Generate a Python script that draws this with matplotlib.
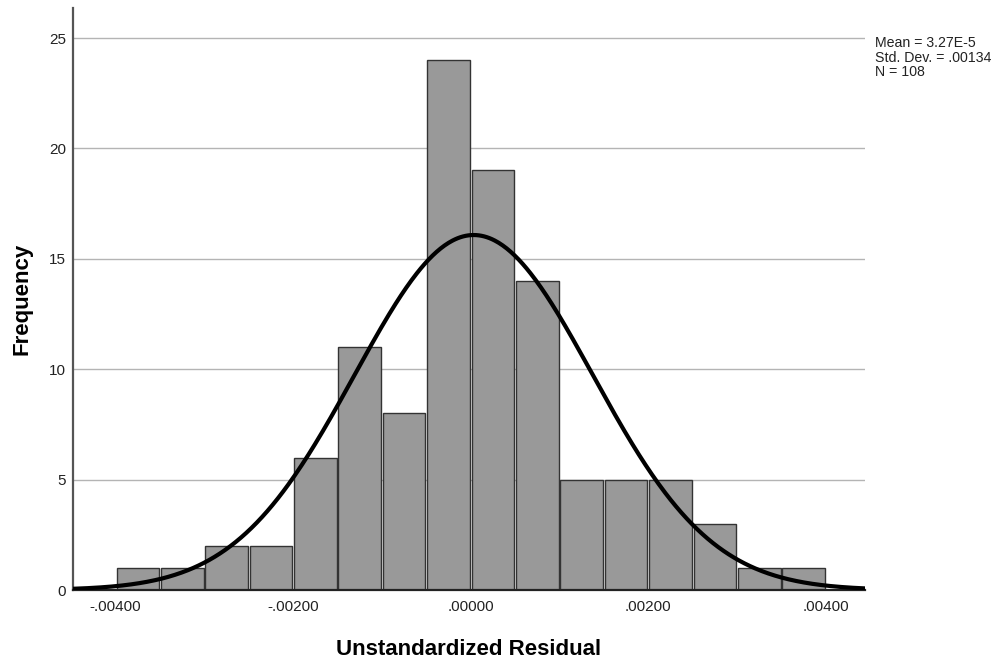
import numpy as np
import matplotlib
matplotlib.use("Agg")
import matplotlib.pyplot as plt

plt.rcParams['font.family'] = ['Liberation Sans', 'DejaVu Sans']

bin_edges = [-0.0040, -0.0035, -0.0030, -0.0025, -0.0020, -0.0015, -0.0010, -0.0005,
             0.0000, 0.0005, 0.0010, 0.0015, 0.0020, 0.0025, 0.0030, 0.0035, 0.0040]
counts = [1, 1, 2, 2, 6, 11, 8, 24, 19, 14, 5, 5, 5, 3, 1, 1]
mean = 3.27e-5
std = 0.00134
n = 108
xticks = [-0.004, -0.002, 0.0, 0.002, 0.004]
xticklabels = ['-.00400', '-.00200', '.00000', '.00200', '.00400']
yticks = [0, 5, 10, 15, 20, 25]

fig = plt.figure(figsize=(10.01, 6.59), dpi=100)
ax = fig.add_axes([73/1001, 1-590/659, (865-73)/1001, (590-8)/659])

lefts = np.array(bin_edges[:-1])
widths = np.diff(bin_edges)
gap = 0.00002
ax.bar(lefts + gap/2, counts, width=widths - gap, align='edge',
       color='#999999', edgecolor='#333333', linewidth=1.0, zorder=2)

xlim = (-0.00448, 0.00444)
xs = np.linspace(xlim[0], xlim[1], 600)
bw = 0.0005
pdf = n * bw / (std * np.sqrt(2*np.pi)) * np.exp(-0.5*((xs-mean)/std)**2)
ax.plot(xs, pdf, color='black', linewidth=3.0, zorder=3, solid_capstyle='butt')

ax.set_xlim(*xlim)
ax.set_ylim(0, (590-8)/22.08)
ax.set_yticks(yticks)
ax.set_xticks(xticks)
ax.set_xticklabels(xticklabels)
for y in yticks[1:]:
    ax.axhline(y, color='#b4b4b4', linewidth=1.0, zorder=1)
ax.tick_params(axis='both', length=0, labelsize=11, colors='#222222', pad=5)
ax.tick_params(axis='x', pad=7)
for s in ['top', 'right']:
    ax.spines[s].set_visible(False)
ax.spines['left'].set_color('#555555')
ax.spines['left'].set_linewidth(1.6)
ax.spines['bottom'].set_color('#222222')
ax.spines['bottom'].set_linewidth(1.6)

ax.set_ylabel('Frequency', fontsize=16, fontweight='bold', labelpad=12)
ax.set_xlabel('Unstandardized Residual', fontsize=16, fontweight='bold', labelpad=18)

fig.text(875/1001, 1-36/659, 'Mean = 3.27E-5\nStd. Dev. = .00134\nN = 108',
         fontsize=10.2, va='top', ha='left', linespacing=1.05, color='#222222')

fig.savefig('out.png', dpi=100)
